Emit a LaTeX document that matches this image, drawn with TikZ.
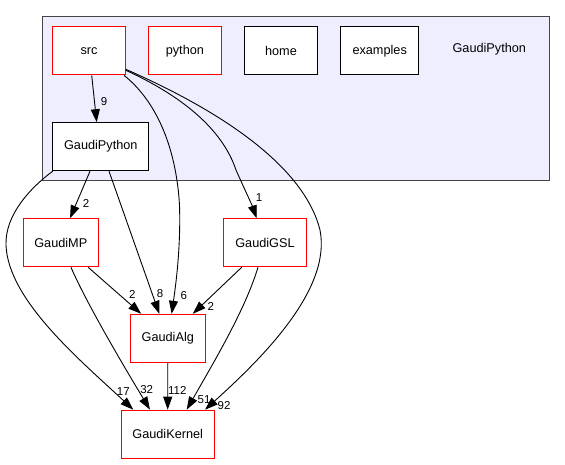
\documentclass[tikz,border=0pt]{standalone}
\usepackage{fontspec}
\setmainfont{Liberation Sans}
\usetikzlibrary{arrows.meta}
\definecolor{clfill}{HTML}{EEEEFF}
\definecolor{clborder}{HTML}{444444}
\definecolor{dred}{HTML}{FF0000}
\begin{document}
\begin{tikzpicture}[x=1pt,y=-1pt,
  box/.style={draw, line width=1pt, minimum height=48pt, inner sep=0pt, fill=white,
    font=\fontsize{12.7}{15}\selectfont},
  redbox/.style={box, draw=dred},
  blkbox/.style={box, draw=black},
  cluster/.style={draw=clborder, fill=clfill, line width=1pt, inner sep=0pt},
  elab/.style={inner sep=0pt, font=\fontsize{11.5}{13}\selectfont},
  dep/.style={draw=black, line width=0.9pt, -{Triangle[length=13pt,width=9pt]}}]
\useasboundingbox (0,0) rectangle (565,464);
% cluster
\node[cluster, minimum width=507pt, minimum height=164.7pt] (cl) at (295.8,98.35) {};
\node[inner sep=0pt, font=\fontsize{12.7}{15}\selectfont] (cllabel) at (489.3,49.5) {GaudiPython};
% nodes
\node[redbox, minimum width=72.6pt] (src) at (89,50.8) {src};
\node[redbox, minimum width=72.3pt] (python) at (184.9,50.8) {python};
\node[blkbox, minimum width=72.6pt] (home) at (281,50.8) {home};
\node[blkbox, minimum width=78pt] (examples) at (379.7,50.8) {examples};
\node[blkbox, minimum width=96.3pt] (gpy) at (100.8,146.7) {GaudiPython};
\node[redbox, minimum width=75pt] (gmp) at (60.8,242.8) {GaudiMP};
\node[redbox, minimum width=82.6pt] (ggsl) at (265,242.8) {GaudiGSL};
\node[redbox, minimum width=75pt] (galg) at (167.8,338.3) {GaudiAlg};
\node[redbox, minimum width=93.3pt] (gk) at (167.7,434.2) {GaudiKernel};
% edges
\draw[dep] ([xshift=2.7pt]src.south) -- ([xshift=-4.1pt]gpy.north);
\draw[dep] ([xshift=-1.8pt]src.south east) .. controls (155,100) and (176,145) .. (179.5,205)
  .. controls (181,250) and (175,290) .. ([xshift=3.9pt]galg.north);
\draw[dep] ([yshift=5pt]src.south east) .. controls (180,95) and (222,128) .. (236,170)
  .. controls (244,188) and (252,205) .. ([xshift=-8.3pt]ggsl.north);
\draw[dep] ([yshift=6pt]src.south east) .. controls (230,115) and (305,170) .. (320,230)
  .. controls (332,290) and (260,360) .. ([xshift=37.3pt]gk.north);
\draw[dep] ([xshift=0.6pt]gpy.south west) .. controls (30,188) and (5,215) .. (6,245)
  .. controls (8,300) and (80,360) .. ([xshift=-34.4pt]gk.north);
\draw[dep] ([xshift=-10.8pt]gpy.south) -- ([xshift=9.2pt]gmp.north);
\draw[dep] ([xshift=8.2pt]gpy.south) -- ([xshift=-8.5pt]galg.north);
\draw[dep] ([xshift=-10.6pt]gmp.south east) -- ([xshift=11.4pt]galg.north west);
\draw[dep] ([xshift=10.2pt]gmp.south) .. controls (85,300) and (120,360) .. ([xshift=-17.7pt]gk.north);
\draw[dep] ([xshift=-23.3pt]ggsl.south) -- ([xshift=-13pt]galg.north east);
\draw[dep] ([xshift=-7pt]ggsl.south) .. controls (245,310) and (215,360) .. ([xshift=19pt]gk.north);
\draw[dep] (galg.south) -- (gk.north);
% edge labels
\node[elab] (l9) at (104,101.7) {9};
\node[elab] (l6) at (183.7,296) {6};
\node[elab] (l1) at (259,197.7) {1};
\node[elab] (l92) at (224,405.7) {92};
\node[elab] (l17) at (123.3,391.7) {17};
\node[elab] (l2a) at (86,203.3) {2};
\node[elab] (l8) at (160,294) {8};
\node[elab] (l2b) at (132.3,294.3) {2};
\node[elab] (l32) at (146.7,389.3) {32};
\node[elab] (l2c) at (210.7,306.7) {2};
\node[elab] (l51) at (204,399.3) {51};
\node[elab] (l112) at (177.3,390.7) {112};
\end{tikzpicture}
\end{document}
